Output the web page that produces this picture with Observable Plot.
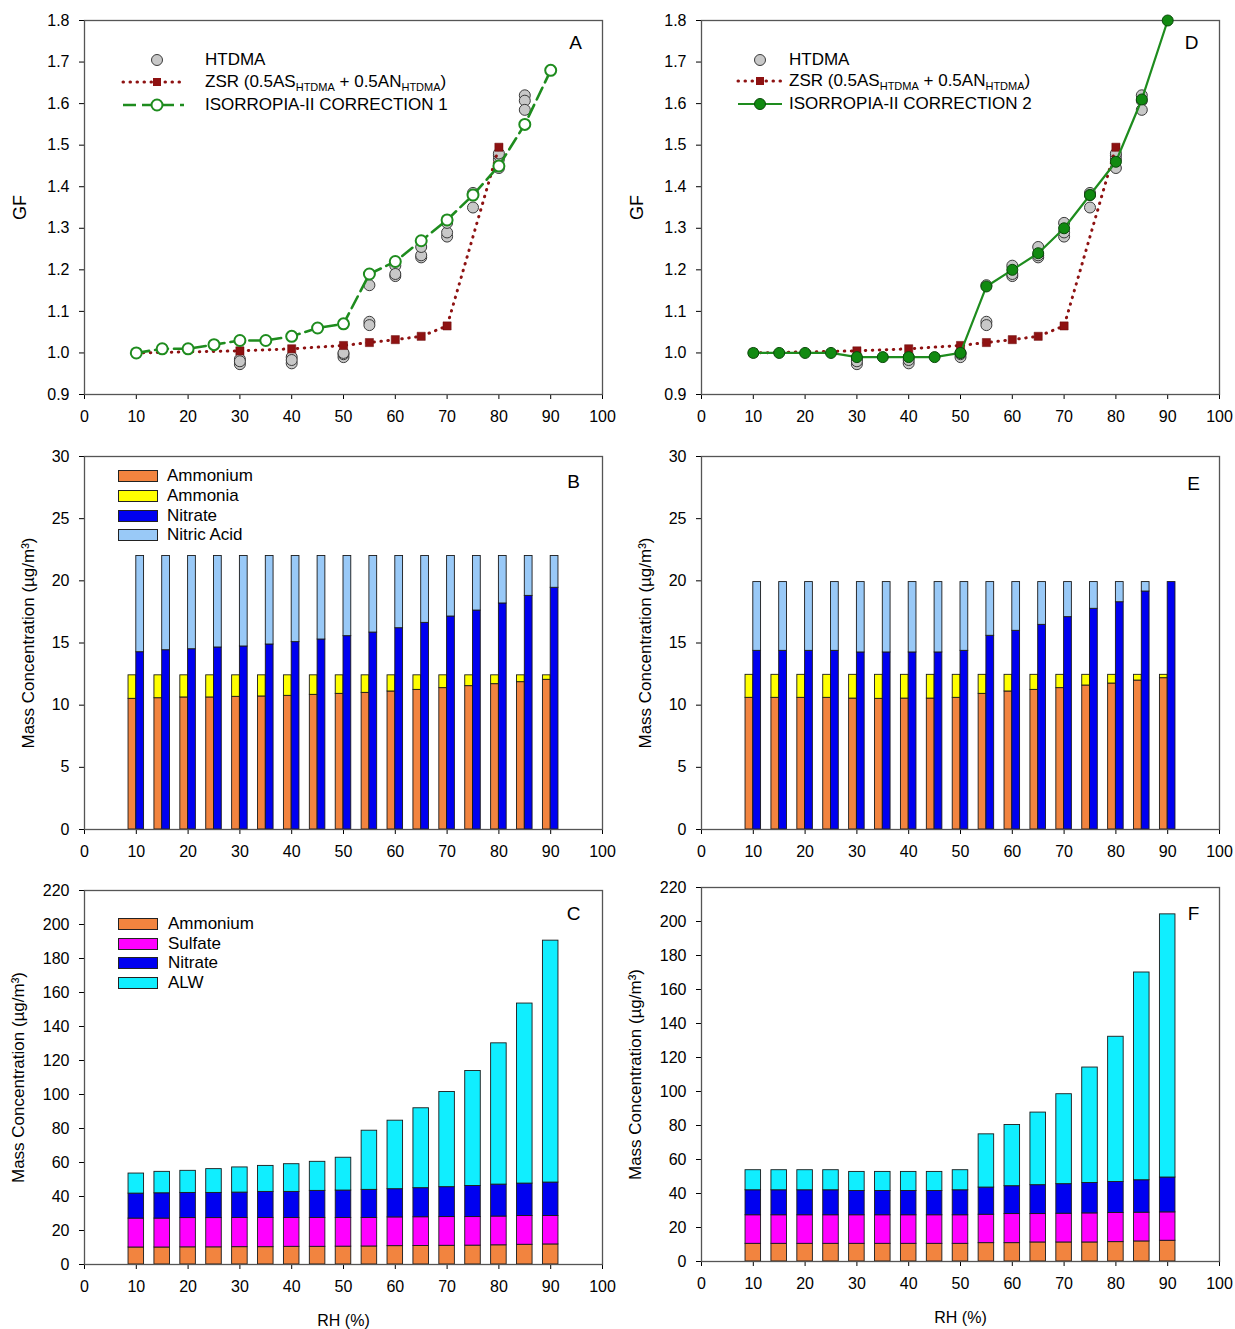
<!DOCTYPE html>
<html><head><meta charset="utf-8">
<script src="https://cdn.jsdelivr.net/npm/d3@7"></script>
<script src="https://cdn.jsdelivr.net/npm/@observablehq/plot@0.6"></script>
<style>
body{margin:0;background:#fff}
#root{position:relative;width:1235px;height:1329px;background:#fff;font-family:"Liberation Sans",Arial,sans-serif;color:#000;overflow:hidden}
.leg{position:absolute;font-size:17px;line-height:1;white-space:nowrap;font-family:"Liberation Sans",Arial,sans-serif}
.leg sub{font-size:11px;vertical-align:-4px;line-height:0}
.sw{position:absolute;width:38px;height:10px;border:1px solid #222}
</style></head><body><div id="root"></div>
<script>
// ---------------- DATA ----------------
const RH = [10,15,20,25,30,35,40,45,50,55,60,65,70,75,80,85,90];

// Panels A / D : growth factor
const corr1GF = [1.00,1.01,1.01,1.02,1.03,1.03,1.04,1.06,1.07,1.19,1.22,1.27,1.32,1.38,1.45,1.55,1.68];
const corr2GF = [1.00,1.00,1.00,1.00,0.99,0.99,0.99,0.99,1.00,1.16,1.20,1.24,1.30,1.38,1.46,1.61,1.80];
const zsrRH = [10,30,40,50,55,60,65,70,80];
const zsrGF = [1.00,1.005,1.01,1.018,1.025,1.032,1.04,1.065,1.495];
const htdmaRH = [30,30,30,40,40,40,50,50,50,55,55,55,60,60,60,65,65,65,70,70,70,75,75,75,80,80,80,80,85,85,85];
const htdmaGF = [0.985,0.973,0.98, 0.99,0.975,0.983, 0.99,0.997,1.0, 1.163,1.075,1.067, 1.21,1.185,1.19, 1.23,1.235,1.255, 1.28,1.29,1.313, 1.35,1.385,1.38, 1.445,1.466,1.475,1.48, 1.62,1.607,1.585];

// Panel B (correction 1) : gas / particle partitioning
const ammoniumB = [10.51,10.56,10.62,10.62,10.67,10.70,10.75,10.83,10.91,10.99,11.10,11.23,11.37,11.53,11.69,11.85,12.04];
const ammoniaB  = [1.89,1.84,1.78,1.78,1.73,1.70,1.65,1.57,1.49,1.41,1.30,1.17,1.03,0.87,0.71,0.55,0.36];
const nitrateB  = [14.26,14.42,14.50,14.64,14.72,14.88,15.07,15.28,15.55,15.84,16.19,16.62,17.13,17.61,18.18,18.79,19.44];
const nitricB   = [7.74,7.58,7.50,7.36,7.28,7.12,6.93,6.72,6.45,6.16,5.81,5.38,4.87,4.39,3.82,3.21,2.56];

// Panel E (correction 2)
const ammoniumE = [10.59,10.59,10.59,10.59,10.53,10.51,10.53,10.53,10.59,10.91,11.10,11.23,11.37,11.58,11.74,11.98,12.17];
const ammoniaE  = [1.85,1.85,1.85,1.85,1.91,1.93,1.91,1.91,1.85,1.53,1.34,1.21,1.07,0.86,0.70,0.46,0.27];
const nitrateE  = [14.37,14.37,14.37,14.37,14.24,14.24,14.24,14.24,14.37,15.58,15.98,16.46,17.08,17.75,18.28,19.14,19.90];
const nitricE   = [5.53,5.53,5.53,5.53,5.66,5.66,5.66,5.66,5.53,4.32,3.92,3.44,2.82,2.15,1.62,0.76,0];

// Panel C (correction 1) : aerosol composition incl. liquid water
const ammoniumC = [10.0,10.0,10.1,10.1,10.2,10.2,10.4,10.4,10.5,10.6,10.8,10.9,11.0,11.1,11.3,11.6,11.8];
const sulfateC  = [17.0,17.0,17.2,17.2,17.2,17.2,17.0,17.0,16.9,16.8,16.9,16.9,16.9,16.8,16.9,16.9,16.7];
const nitrateC  = [14.7,14.9,14.8,14.8,14.9,15.3,15.3,15.9,16.1,16.5,16.6,17.1,17.6,18.3,18.8,19.1,19.7];
const alwC      = [11.8,12.6,13.0,14.0,14.8,15.3,16.3,17.1,19.3,34.8,40.3,47.0,56.0,67.6,83.1,105.9,142.3];

// Panel F (correction 2)
const ammoniumF = [10.4,10.4,10.4,10.4,10.4,10.4,10.4,10.4,10.4,10.8,10.8,11.2,11.2,11.2,11.4,11.8,12.2];
const sulfateF  = [16.8,16.8,16.8,16.8,16.8,16.8,16.8,16.8,16.8,16.7,17.1,16.7,16.9,17.1,17.1,16.9,16.7];
const nitrateF  = [14.7,14.7,14.7,14.7,14.3,14.3,14.3,14.3,14.7,16.0,16.4,17.0,17.4,17.9,18.3,19.1,20.5];
const alwF      = [11.8,11.8,11.8,11.8,11.2,11.2,11.2,11.2,11.8,31.3,36.0,42.7,52.9,67.9,85.4,122.2,154.8];

const xTicks = [0,10,20,30,40,50,60,70,80,90,100];
const gfTicks = [0.9,1.0,1.1,1.2,1.3,1.4,1.5,1.6,1.7,1.8];
const nTicks = [0,5,10,15,20,25,30];
const cTicks = [0,20,40,60,80,100,120,140,160,180,200,220];

const nitroComps = ["Ammonium","Ammonia","Nitrate","Nitric Acid"];
const nitroColors = ["#F2843F","#FFFF00","#0000F0","#99C9F7"];
const compComps = ["Ammonium","Sulfate","Nitrate","ALW"];
const compColors = ["#F2843F","#FF00FF","#0000F0","#10EEFF"];

const GREEN = "#1E8C1E", RED = "#8E1212", GRAY = "#C8C8C8";
const FONT = '"Liberation Sans", Arial, sans-serif';

// ---------------- HELPERS ----------------
const root = document.getElementById("root");
function place(node, left, top) {
  node.style.position = "absolute";
  node.style.left = left + "px";
  node.style.top = top + "px";
  root.appendChild(node);
}

function frameMarks(yTicks, yFmt, ylabel, labelDx, letter, ldx, ldy, showRH) {
  const m = [
    Plot.axisX({ticks: xTicks, tickSize: 5, tickPadding: 11, label: null, fontSize: 16}),
    Plot.axisY({ticks: yTicks, tickFormat: yFmt, tickSize: 5, tickPadding: 10, label: null, fontSize: 16}),
    Plot.frame({stroke: "#555", strokeWidth: 1.3}),
    Plot.text([ylabel], {text: d => d, frameAnchor: "left", rotate: -90, dx: labelDx, fontSize: ylabel === "GF" ? 18 : 17, textAnchor: "middle", lineAnchor: "middle"}),
    Plot.text([letter], {text: d => d, frameAnchor: "top-right", dx: ldx, dy: ldy, fontSize: 19, textAnchor: "middle", lineAnchor: "middle"})
  ];
  if (showRH) m.push(Plot.text(["RH (%)"], {text: d => d, frameAnchor: "bottom", dy: 56, fontSize: 16, textAnchor: "middle", lineAnchor: "middle"}));
  return m;
}

function gfPanel(corr, dashed, letter, ldx, ldy) {
  const corrRows = RH.map((rh, i) => ({rh, gf: corr[i]}));
  const zsrRows = zsrRH.map((rh, i) => ({rh, gf: zsrGF[i]}));
  const htRows = htdmaRH.map((rh, i) => ({rh, gf: htdmaGF[i]}));
  return Plot.plot({
    width: 617, height: 440,
    marginLeft: 84, marginRight: 15, marginTop: 20, marginBottom: 46,
    x: {domain: [0, 100]},
    y: {domain: [0.9, 1.8]},
    style: {fontFamily: FONT, color: "#000", background: "transparent", overflow: "visible"},
    marks: [
      ...frameMarks(gfTicks, d3.format(".1f"), "GF", -64, letter, ldx, ldy, false),
      Plot.dot(htRows, {x: "rh", y: "gf", r: 5.5, fill: GRAY, stroke: "#3a3a3a", strokeWidth: 1}),
      Plot.line(zsrRows, {x: "rh", y: "gf", stroke: RED, strokeWidth: 3, strokeDasharray: "0.5,6.5", strokeLinecap: "round"}),
      Plot.dot(zsrRows, {x: "rh", y: "gf", symbol: "square", r: 4.6, fill: RED, stroke: "#6a0a0a", strokeWidth: 0.5}),
      Plot.line(corrRows, dashed
        ? {x: "rh", y: "gf", stroke: GREEN, strokeWidth: 2.6, strokeDasharray: "13,6"}
        : {x: "rh", y: "gf", stroke: GREEN, strokeWidth: 2.2}),
      Plot.dot(corrRows, dashed
        ? {x: "rh", y: "gf", r: 5.5, fill: "white", stroke: GREEN, strokeWidth: 2}
        : {x: "rh", y: "gf", r: 5.5, fill: "#118A11", stroke: "#0A4A0A", strokeWidth: 1})
    ]
  });
}

function stackRows(rhList, series, comps, offsets) {
  const rows = [];
  rhList.forEach((rh, i) => {
    const cum = {};
    series.forEach((arr, k) => {
      const [o1, o2, grp] = offsets[k];
      const base = cum[grp] || 0;
      rows.push({rh, comp: comps[k], x1: rh + o1, x2: rh + o2, y1: base, y2: base + arr[i]});
      cum[grp] = base + arr[i];
    });
  });
  return rows;
}

function barPanel(rows, comps, colors, yDomain, yTicks, letter, ldx, ldy, size, labelDx, showRH) {
  return Plot.plot({
    width: size.w, height: size.h,
    marginLeft: 84, marginRight: size.mr, marginTop: size.mt, marginBottom: size.mb,
    x: {domain: [0, 100]},
    y: {domain: yDomain},
    color: {domain: comps, range: colors},
    style: {fontFamily: FONT, color: "#000", background: "transparent", overflow: "visible"},
    marks: [
      Plot.rect(rows, {x1: "x1", x2: "x2", y1: "y1", y2: "y2", fill: "comp", stroke: "#1a1a1a", strokeWidth: 0.9}),
      ...frameMarks(yTicks, d => String(d), "Mass Concentration (\u00B5g/m\u00B3)", labelDx, letter, ldx, ldy, showRH)
    ]
  });
}

// ---------------- PANELS ----------------
place(gfPanel(corr1GF, true, "A", -27, 22), 0, 0);
place(gfPanel(corr2GF, false, "D", -28, 22), 617, 0);

const nitroOffsets = [[-1.5, 0, "L"], [-1.5, 0, "L"], [0, 1.5, "R"], [0, 1.5, "R"]];
const rowsB = stackRows(RH, [ammoniumB, ammoniaB, nitrateB, nitricB], nitroComps, nitroOffsets);
const rowsE = stackRows(RH, [ammoniumE, ammoniaE, nitrateE, nitricE], nitroComps, nitroOffsets);
place(barPanel(rowsB, nitroComps, nitroColors, [0, 30], nTicks, "B", -29, 25, {w: 617, h: 440, mr: 15, mt: 16, mb: 51}, -56, false), 0, 440);
place(barPanel(rowsE, nitroComps, nitroColors, [0, 30], nTicks, "E", -26, 27, {w: 618, h: 440, mr: 16, mt: 16, mb: 51}, -56, false), 617, 440);

const compOffsets = [[-1.5, 1.5, "S"], [-1.5, 1.5, "S"], [-1.5, 1.5, "S"], [-1.5, 1.5, "S"]];
const rowsC = stackRows(RH, [ammoniumC, sulfateC, nitrateC, alwC], compComps, compOffsets);
const rowsF = stackRows(RH, [ammoniumF, sulfateF, nitrateF, alwF], compComps, compOffsets);
place(barPanel(rowsC, compComps, compColors, [0, 220], cTicks, "C", -29, 23, {w: 617, h: 449, mr: 15, mt: 10, mb: 65}, -66, true), 0, 880);
place(barPanel(rowsF, compComps, compColors, [0, 220], cTicks, "F", -26, 26, {w: 618, h: 452, mr: 16, mt: 10, mb: 68}, -66, true), 617, 877);

// ---------------- LEGENDS (HTML overlays) ----------------
function gfLegend(x0, x1, cx, tx, ys, third) {
  const ns = "http://www.w3.org/2000/svg";
  const svg = document.createElementNS(ns, "svg");
  svg.setAttribute("width", 1235); svg.setAttribute("height", 130);
  svg.style.position = "absolute"; svg.style.left = "0px"; svg.style.top = "0px"; svg.style.overflow = "visible";
  const mk = (tag, attrs) => { const e = document.createElementNS(ns, tag); for (const k in attrs) e.setAttribute(k, attrs[k]); svg.appendChild(e); return e; };
  mk("circle", {cx, cy: ys[0], r: 5.5, fill: GRAY, stroke: "#3a3a3a", "stroke-width": 1});
  mk("line", {x1: x0, x2: x1, y1: ys[1], y2: ys[1], stroke: RED, "stroke-width": 3, "stroke-dasharray": "0.5,6.5", "stroke-linecap": "round"});
  mk("rect", {x: cx - 4, y: ys[1] - 4, width: 8, height: 8, fill: RED});
  if (third === "dashed") {
    mk("line", {x1: x0, x2: x1, y1: ys[2], y2: ys[2], stroke: GREEN, "stroke-width": 2.6, "stroke-dasharray": "13,6"});
    mk("circle", {cx, cy: ys[2], r: 5.5, fill: "white", stroke: GREEN, "stroke-width": 2});
  } else {
    mk("line", {x1: x0, x2: x1, y1: ys[2], y2: ys[2], stroke: GREEN, "stroke-width": 2.2});
    mk("circle", {cx, cy: ys[2], r: 5.5, fill: "#118A11", stroke: "#0A4A0A", "stroke-width": 1});
  }
  root.appendChild(svg);
  const labels = ["HTDMA", "ZSR (0.5AS<sub>HTDMA</sub> + 0.5AN<sub>HTDMA</sub>)", third === "dashed" ? "ISORROPIA-II CORRECTION 1" : "ISORROPIA-II CORRECTION 2"];
  labels.forEach((t, i) => {
    const d = document.createElement("div");
    d.className = "leg"; d.innerHTML = t;
    d.style.left = tx + "px"; d.style.top = (ys[i] - 9) + "px";
    root.appendChild(d);
  });
}
gfLegend(123, 184, 157, 205, [60, 82, 105], "dashed");
gfLegend(738, 782, 760, 789, [60, 81, 104], "solid");

function boxLegend(comps, colors, sx, tx, ys) {
  comps.forEach((c, i) => {
    const s = document.createElement("div");
    s.className = "sw"; s.style.left = sx + "px"; s.style.top = (ys[i] - 6) + "px"; s.style.background = colors[i];
    root.appendChild(s);
    const d = document.createElement("div");
    d.className = "leg"; d.textContent = c;
    d.style.left = tx + "px"; d.style.top = (ys[i] - 9) + "px";
    root.appendChild(d);
  });
}
boxLegend(nitroComps, nitroColors, 118, 167, [476, 496, 515.5, 535]);
boxLegend(compComps, compColors, 118, 168, [924, 944, 963, 983]);
</script></body></html>
